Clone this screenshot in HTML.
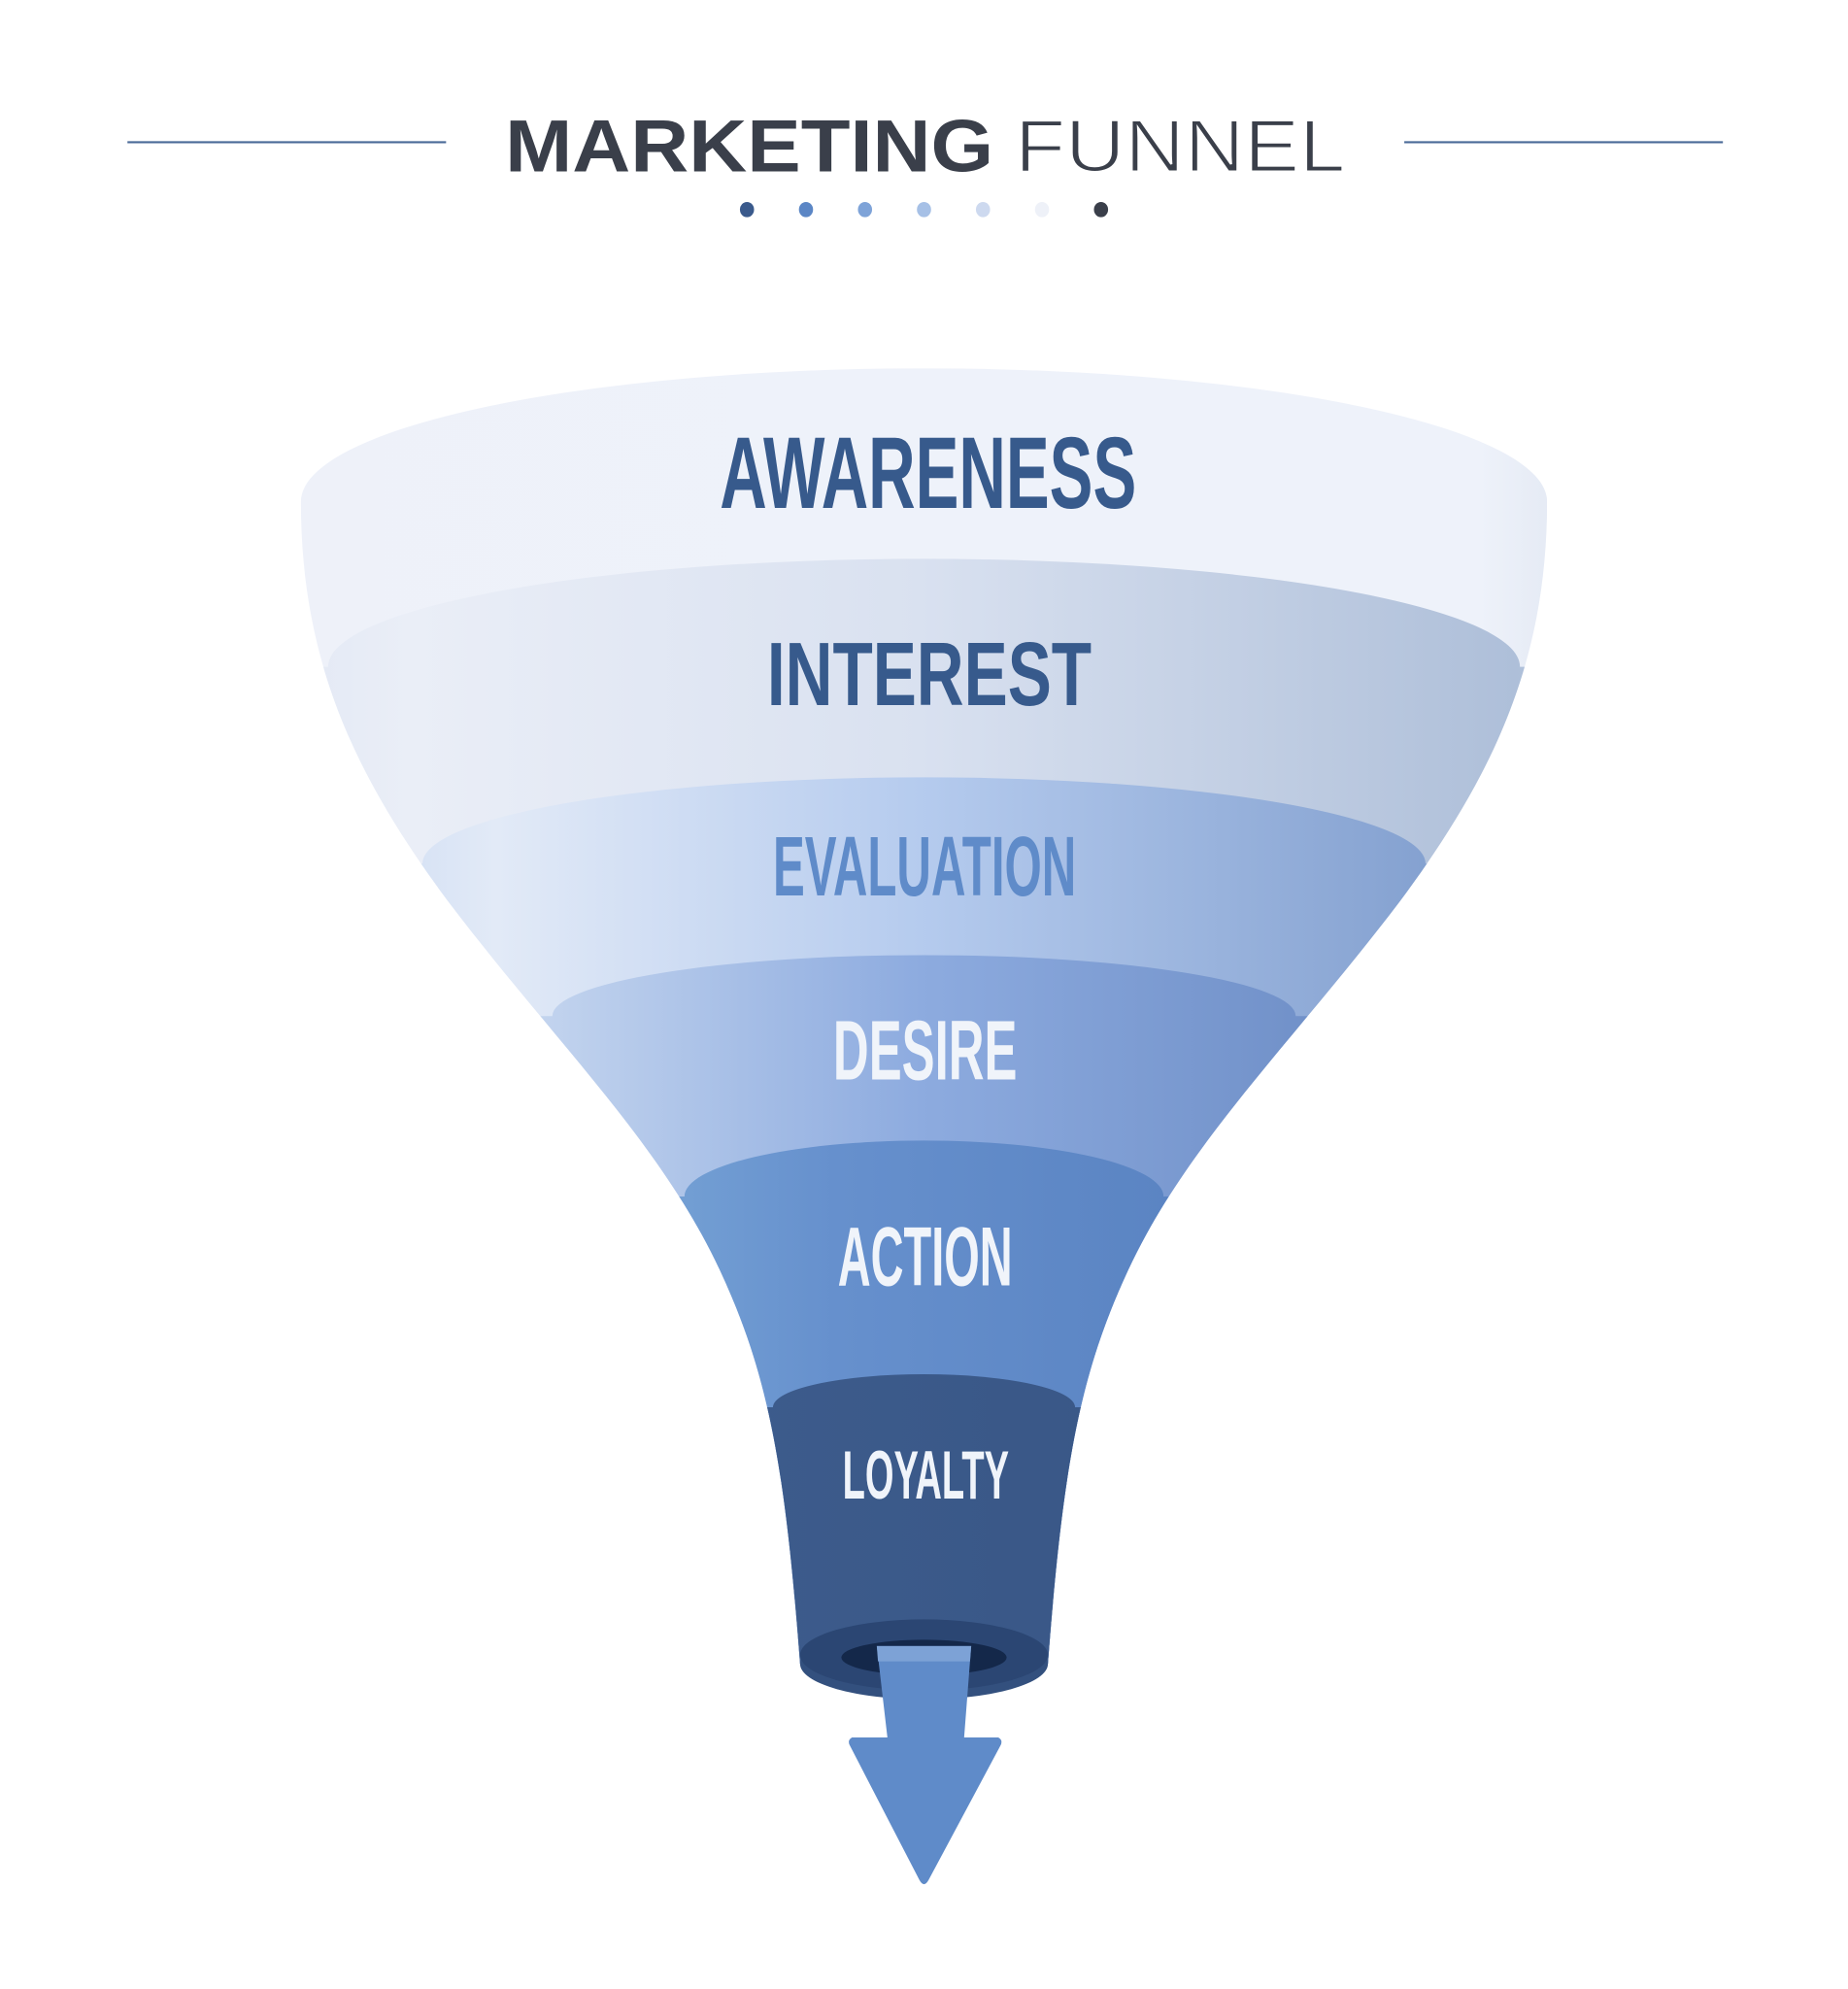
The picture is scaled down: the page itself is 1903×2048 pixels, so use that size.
<!DOCTYPE html>
<html><head><meta charset="utf-8"><style>
html,body{margin:0;padding:0;background:#fff;}
svg{display:block;}
</style></head><body>
<svg width="1903" height="2048" viewBox="0 0 1566 1566" preserveAspectRatio="none" xmlns="http://www.w3.org/2000/svg">
<defs>
<clipPath id="sil">
<path d="M255,395 A528,105 0 0 1 1311,395 C1311,520 1266,610 1186,710 C1096,820 1006,900 956,1000 C916,1080 901,1150 888,1310 L678,1310 C665,1150 650,1080 610,1000 C560,900 470,820 380,710 C300,610 255,520 255,395 Z"/>
</clipPath>
<linearGradient id="g1" x1="0" x2="1" y1="0" y2="0"><stop offset="0" stop-color="#eef1f9"/><stop offset="0.8" stop-color="#eef2fa"/><stop offset="0.9" stop-color="#d7deec"/><stop offset="1" stop-color="#eef1f9"/></linearGradient>
<linearGradient id="g2" x1="0" x2="1"><stop offset="0" stop-color="#d6dff0"/><stop offset="0.2" stop-color="#eaeef7"/><stop offset="0.5" stop-color="#d9e1f0"/><stop offset="0.85" stop-color="#aebfd9"/><stop offset="1" stop-color="#cdd8ea"/></linearGradient>
<linearGradient id="g3" x1="0" x2="1"><stop offset="0" stop-color="#a9c2ea"/><stop offset="0.25" stop-color="#e2eaf7"/><stop offset="0.5" stop-color="#b5cbee"/><stop offset="0.85" stop-color="#7c9acb"/><stop offset="1" stop-color="#a9c1e9"/></linearGradient>
<linearGradient id="g4" x1="0" x2="1"><stop offset="0" stop-color="#7fa2da"/><stop offset="0.22" stop-color="#d0def2"/><stop offset="0.5" stop-color="#8dabdf"/><stop offset="0.85" stop-color="#6283bd"/><stop offset="1" stop-color="#86a7dc"/></linearGradient>
<linearGradient id="g5" x1="0" x2="1"><stop offset="0" stop-color="#6a93d0"/><stop offset="0.15" stop-color="#8fc0e2"/><stop offset="0.45" stop-color="#6690cd"/><stop offset="0.85" stop-color="#4f78b8"/><stop offset="1" stop-color="#6690cd"/></linearGradient>
<linearGradient id="g6" x1="0" x2="1"><stop offset="0" stop-color="#3a5888"/><stop offset="0.3" stop-color="#3e5d8e"/><stop offset="1" stop-color="#33507e"/></linearGradient>
</defs>

<line x1="108" y1="112" x2="378" y2="112" stroke="#4a6a98" stroke-width="1.6"/>
<line x1="1190" y1="112" x2="1460" y2="112" stroke="#4a6a98" stroke-width="1.6"/>
<text x="428" y="135" font-family="Liberation Sans, sans-serif" font-weight="bold" font-size="58" fill="#3a3f4a" textLength="414" lengthAdjust="spacingAndGlyphs">MARKETING</text>
<text x="860" y="135" font-family="Liberation Sans, sans-serif" font-size="58" fill="#3a3f4a" textLength="280" lengthAdjust="spacingAndGlyphs" stroke="#fff" stroke-width="1.5">FUNNEL</text>
<circle cx="633" cy="165" r="6" fill="#3a5a8c"/>
<circle cx="683" cy="165" r="6" fill="#5b86c5"/>
<circle cx="733" cy="165" r="6" fill="#7ea3d8"/>
<circle cx="783" cy="165" r="6" fill="#a6c0e6"/>
<circle cx="833" cy="165" r="6" fill="#cdd9ef"/>
<circle cx="883" cy="165" r="6" fill="#eef1f8"/>
<circle cx="933" cy="165" r="6" fill="#3a3f4a"/>

<g clip-path="url(#sil)">
<rect x="0" y="280" width="1566" height="1100" fill="url(#g1)"/>
<path d="M278,525 A505,85 0 0 1 1288,525 L1500,525 L1500,1400 L60,1400 L60,525 Z" fill="url(#g2)"/>
<path d="M358,680 A425,68 0 0 1 1208,680 L1500,680 L1500,1400 L60,1400 L60,680 Z" fill="url(#g3)"/>
<path d="M468,800 A315,48 0 0 1 1098,800 L1500,800 L1500,1400 L60,1400 L60,800 Z" fill="url(#g4)"/>
<path d="M580,942 A203,44 0 0 1 986,942 L1500,942 L1500,1400 L60,1400 L60,942 Z" fill="url(#g5)"/>
<path d="M655,1108 A128,26 0 0 1 911,1108 L1500,1108 L1500,1400 L60,1400 L60,1108 Z" fill="url(#g6)"/>
</g>
<ellipse cx="783" cy="1310" rx="105" ry="28" fill="#33507e"/>
<ellipse cx="783" cy="1303" rx="105" ry="28" fill="#2b4673"/>
<ellipse cx="783" cy="1305" rx="70" ry="14" fill="#14284a"/>
<path d="M743,1296 L823,1296 L817,1368 L846,1368 Q850,1370 848,1374 L787,1480 Q783,1487 779,1480 L720,1374 Q718,1370 722,1368 L752,1368 Z" fill="#5f8bc9"/>
<path d="M743,1296 L823,1296 L822,1308 L744,1308 Z" fill="#7da2d6"/>

<g font-family="Liberation Sans Narrow, Liberation Sans, sans-serif" font-weight="bold">
<text x="610" y="400" font-size="80" fill="#375a8c" textLength="353" lengthAdjust="spacingAndGlyphs">AWARENESS</text>
<text x="650" y="555" font-size="71" fill="#375a8c" textLength="275" lengthAdjust="spacingAndGlyphs">INTEREST</text>
<text x="655" y="705" font-size="67" fill="#5f8bc9" textLength="257" lengthAdjust="spacingAndGlyphs">EVALUATION</text>
<text x="706" y="850" font-size="67" fill="#f0f4fa" textLength="156" lengthAdjust="spacingAndGlyphs">DESIRE</text>
<text x="710" y="1012" font-size="66" fill="#f0f4fa" textLength="148" lengthAdjust="spacingAndGlyphs">ACTION</text>
<text x="714" y="1180" font-size="54" fill="#f0f4fa" textLength="141" lengthAdjust="spacingAndGlyphs">LOYALTY</text>
</g>
</svg>
</body></html>
